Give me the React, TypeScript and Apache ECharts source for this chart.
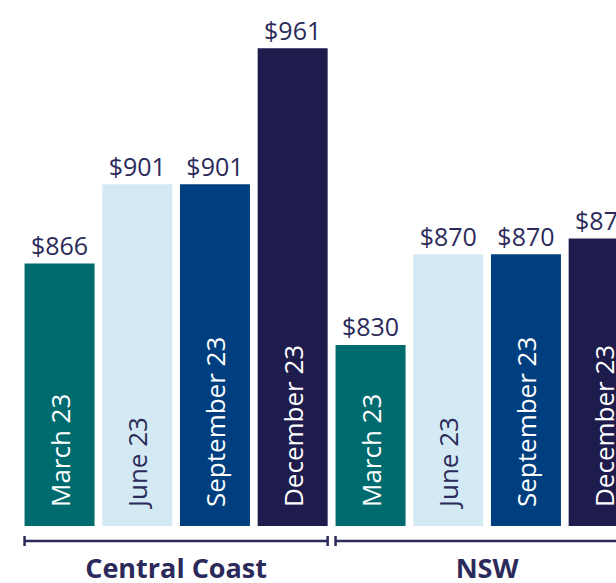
import React, { useEffect, useRef } from "react";
import * as echarts from "echarts";

const regions = ["Central Coast", "NSW"];
const quarters = ["March 23", "June 23", "September 23", "December 23"];
const march23 = [866, 830];
const june23 = [901, 870];
const september23 = [901, 870];
const december23 = [961, 877];
const quarterValues = [march23, june23, september23, december23];

const colors = ["#006B6E", "#D3EAF4", "#003F7F", "#1E1C4C"];
const insideTextColors = ["#FFFFFF", "#2B2A5A", "#FFFFFF", "#FFFFFF"];
const textColor = "#2B2A5A";
const FONT = "'Open Sans', 'Noto Sans', sans-serif";
const BAR_W = 70;
const GAP = 7.7;
const Y_MIN = 750;
const Y_MAX = 970;

export default function App() {
  const ref = useRef<HTMLDivElement>(null);
  useEffect(() => {
    if (!ref.current) return;
    const chart = echarts.init(ref.current, undefined, { renderer: "svg" });
    const series: any[] = [];
    quarters.forEach((q, qi) => {
      const vals = quarterValues[qi];
      series.push({
        type: "bar",
        name: q,
        stack: q,
        clip: true,
        barWidth: BAR_W,
        barGap: (GAP / BAR_W) * 100 + "%",
        data: vals,
        itemStyle: { color: colors[qi] },
        label: {
          show: true,
          position: "insideBottom",
          rotate: 90,
          align: "left",
          verticalAlign: "middle",
          distance: 19,
          fontSize: 26,
          fontFamily: FONT,
          color: insideTextColors[qi],
          formatter: () => q,
        },
      });
      series.push({
        type: "bar",
        name: q + " value",
        stack: q,
        clip: true,
        barWidth: BAR_W,
        barGap: (GAP / BAR_W) * 100 + "%",
        data: regions.map(() => 0),
        itemStyle: { color: "transparent" },
        label: {
          show: true,
          position: "top",
          distance: 6,
          fontSize: 25,
          fontFamily: FONT,
          color: textColor,
          formatter: (p: any) => "$" + vals[p.dataIndex],
        },
      });
    });
    series.push({
      type: "custom",
      clip: false,
      silent: true,
      data: regions.map((r, i) => [i, Y_MIN]),
      encode: { x: 0, y: 1 },
      renderItem: (params: any, api: any) => {
        const c = api.coord([api.value(0), Y_MIN]);
        const groupW = quarters.length * BAR_W + (quarters.length - 1) * GAP;
        const x0 = c[0] - groupW / 2;
        const x1 = c[0] + groupW / 2;
        const y = c[1] + 15;
        const style = { stroke: textColor, lineWidth: 2.5 };
        return {
          type: "group",
          children: [
            { type: "line", shape: { x1: x0, y1: y, x2: x1, y2: y }, style },
            { type: "line", shape: { x1: x0, y1: y - 5, x2: x0, y2: y + 5 }, style },
            { type: "line", shape: { x1: x1, y1: y - 5, x2: x1, y2: y + 5 }, style },
          ],
        };
      },
    });
    chart.setOption({
      animation: false,
      grid: {
        left: 20.6,
        top: 28,
        width: 622,
        height: 498,
        containLabel: false,
        outerBoundsMode: "none",
      },
      xAxis: {
        type: "category",
        data: regions,
        axisLine: { show: false },
        axisTick: { show: false },
        axisLabel: {
          margin: 27,
          fontSize: 27,
          lineHeight: 28,
          fontWeight: "bold",
          fontFamily: FONT,
          color: textColor,
        },
      },
      yAxis: {
        type: "value",
        min: Y_MIN,
        max: Y_MAX,
        show: false,
        splitLine: { show: false },
      },
      series,
    });
    return () => chart.dispose();
  }, []);
  return (
    <div
      ref={ref}
      style={{ position: "absolute", left: 0, top: 0, width: 616, height: 583 }}
    />
  );
}
